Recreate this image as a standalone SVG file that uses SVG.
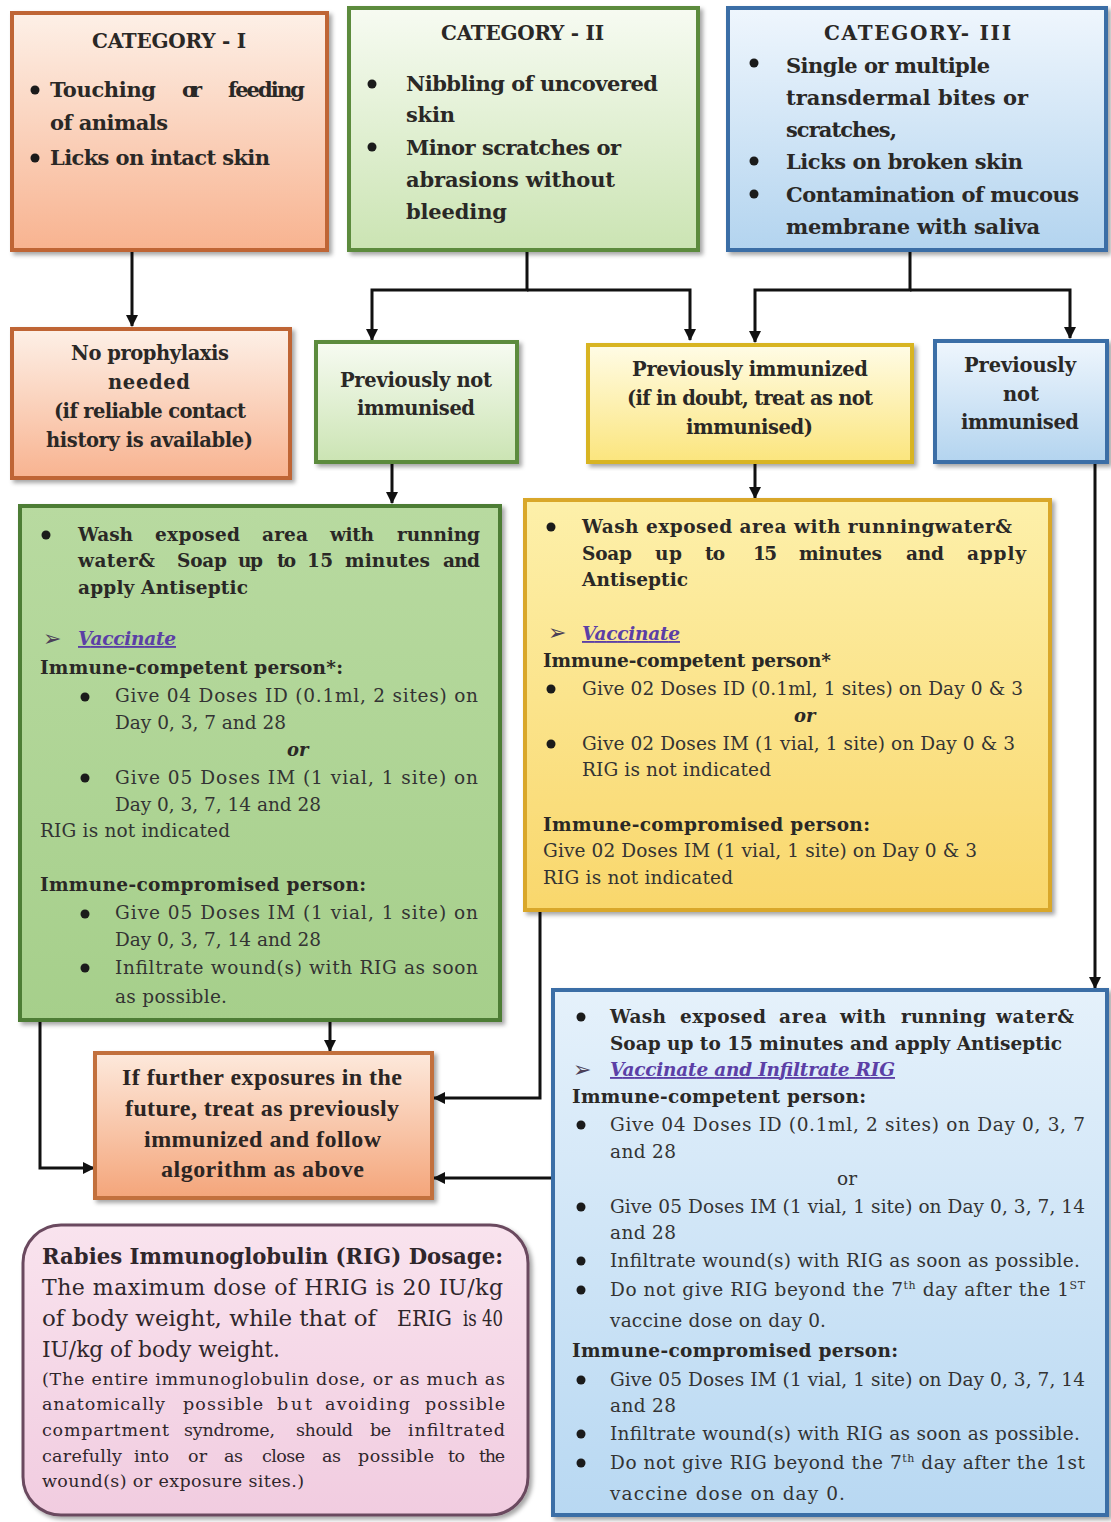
<svg xmlns="http://www.w3.org/2000/svg" width="1111" height="1522" viewBox="0 0 1111 1522">
<style>
.s{font-family:"DejaVu Serif","Liberation Serif",serif;fill:#2a2826}
.hd{font-size:20px;font-weight:bold}
.cb{font-size:21px;font-weight:bold}
.mb{font-size:19.5px;font-weight:bold}
.bb{font-size:18.5px;font-weight:bold}
.rr{font-size:18.5px;fill:#333}
.orr{font-size:18px;font-weight:bold;font-style:italic}
.vc{font-size:18.5px;font-weight:bold;font-style:italic;fill:#5b3fa6;text-decoration:underline}
.ar{font-family:"DejaVu Sans",sans-serif;font-size:22px;fill:#4b4058}
.t{font-family:"Liberation Serif",serif;fill:#2b2523}
.fo{font-size:24px;font-weight:bold}
.ph{font-size:22px;font-weight:bold;fill:#2f262b}
.pr{font-size:22px;fill:#2f262b}
.ps{font-size:17.5px;fill:#2f262b}
.dot{fill:#1b1b1b}
.c{fill:none;stroke:#111;stroke-width:3}
.ca{marker-end:url(#ah)}
.nb{stroke-width:4}
</style>
<defs>
<marker id="ah" markerUnits="userSpaceOnUse" markerWidth="12" markerHeight="12" refX="11" refY="6" orient="auto"><path d="M0,0 L12,6 L0,12 z" fill="#111"/></marker>
<filter id="sh" x="-5%" y="-5%" width="112%" height="112%"><feDropShadow dx="3" dy="3" stdDeviation="2" flood-color="#000" flood-opacity="0.35"/></filter>
<linearGradient id="g1" x1="0" y1="0" x2="0" y2="1"><stop offset="0" stop-color="#fdf0e7"/><stop offset="1" stop-color="#f8b390"/></linearGradient>
<linearGradient id="g2" x1="0" y1="0" x2="0" y2="1"><stop offset="0" stop-color="#f7fbf2"/><stop offset="1" stop-color="#cbe4b3"/></linearGradient>
<linearGradient id="g3" x1="0" y1="0" x2="0" y2="1"><stop offset="0" stop-color="#eff6fd"/><stop offset="1" stop-color="#b3d4ef"/></linearGradient>
<linearGradient id="gy" x1="0" y1="0" x2="0" y2="1"><stop offset="0" stop-color="#fffce6"/><stop offset="1" stop-color="#fbe57d"/></linearGradient>
<linearGradient id="ggb" x1="0" y1="0" x2="0" y2="1"><stop offset="0" stop-color="#b8daa0"/><stop offset="1" stop-color="#a6cf8b"/></linearGradient>
<linearGradient id="gyb" x1="0" y1="0" x2="0" y2="1"><stop offset="0" stop-color="#fdf0aa"/><stop offset="1" stop-color="#f9d76c"/></linearGradient>
<linearGradient id="gbb" x1="0" y1="0" x2="0" y2="1"><stop offset="0" stop-color="#e5f1fb"/><stop offset="1" stop-color="#b8d8f2"/></linearGradient>
<linearGradient id="go" x1="0" y1="0" x2="0" y2="1"><stop offset="0" stop-color="#fde9dc"/><stop offset="1" stop-color="#f4a57a"/></linearGradient>
<linearGradient id="gp" x1="0" y1="0" x2="0" y2="1"><stop offset="0" stop-color="#f9e3ee"/><stop offset="1" stop-color="#f1cce0"/></linearGradient>
</defs>
<rect width="1111" height="1522" fill="#ffffff"/>

<g id="connectors">
<path class="c ca" d="M132,250 V326"/>
<path class="c ca" d="M527,250 V290 H372 V340"/>
<path class="c ca" d="M527,290 H690 V340"/>
<path class="c ca" d="M910,250 V290 H755 V342"/>
<path class="c ca" d="M910,290 H1070 V338"/>
<path class="c ca" d="M392,462 V503"/>
<path class="c ca" d="M755,462 V498"/>
<path class="c ca" d="M1095,462 V988"/>
<path class="c ca" d="M330,1020 V1051"/>
<path class="c ca" d="M40,1020 V1168 H94"/>
<path class="c ca" d="M540,910 V1098 H434"/>
<path class="c ca" d="M553,1178 H434"/>
</g>

<g id="cat1">
<rect x="12" y="13" width="315" height="237" fill="url(#g1)" stroke="#bf6536" class="nb" filter="url(#sh)"/>
<text class="s hd" x="92" y="48" textLength="154" lengthAdjust="spacing">CATEGORY - I</text>
<circle class="dot" cx="35" cy="90" r="4.5"/>
<text class="s cb" x="50" y="97" textLength="106" lengthAdjust="spacing">Touching</text>
<text class="s cb" x="182" y="97" textLength="20" lengthAdjust="spacing">or</text>
<text class="s cb" x="228" y="97" textLength="77" lengthAdjust="spacing">feeding</text>
<text class="s cb" x="50" y="130" textLength="118" lengthAdjust="spacing">of animals</text>
<circle class="dot" cx="35" cy="158" r="4.5"/>
<text class="s cb" x="50" y="165" textLength="220" lengthAdjust="spacing">Licks on intact skin</text>
</g>

<g id="cat2">
<rect x="349" y="8" width="349" height="242" fill="url(#g2)" stroke="#5b8b3e" class="nb" filter="url(#sh)"/>
<text class="s hd" x="441" y="40" textLength="163" lengthAdjust="spacing">CATEGORY -  II</text>
<circle class="dot" cx="372" cy="84" r="4.5"/>
<text class="s cb" x="406" y="91" textLength="252" lengthAdjust="spacing">Nibbling of uncovered</text>
<text class="s cb" x="406" y="122" textLength="49" lengthAdjust="spacing">skin</text>
<circle class="dot" cx="372" cy="147" r="4.5"/>
<text class="s cb" x="406" y="155" textLength="215" lengthAdjust="spacing">Minor scratches or</text>
<text class="s cb" x="406" y="187" textLength="209" lengthAdjust="spacing">abrasions without</text>
<text class="s cb" x="406" y="219" textLength="101" lengthAdjust="spacing">bleeding</text>
</g>

<g id="cat3">
<rect x="728" y="8" width="378" height="242" fill="url(#g3)" stroke="#3b6ea6" class="nb" filter="url(#sh)"/>
<text class="s hd" x="824" y="40" textLength="187" lengthAdjust="spacing">CATEGORY- III</text>
<circle class="dot" cx="754" cy="63" r="4.5"/>
<text class="s cb" x="786" y="73" textLength="204" lengthAdjust="spacing">Single or multiple</text>
<text class="s cb" x="786" y="105" textLength="242" lengthAdjust="spacing">transdermal  bites or</text>
<text class="s cb" x="786" y="137" textLength="111" lengthAdjust="spacing">scratches,</text>
<circle class="dot" cx="754" cy="161" r="4.5"/>
<text class="s cb" x="786" y="169" textLength="237" lengthAdjust="spacing">Licks on broken skin</text>
<circle class="dot" cx="754" cy="194" r="4.5"/>
<text class="s cb" x="786" y="202" textLength="293" lengthAdjust="spacing">Contamination of mucous</text>
<text class="s cb" x="786" y="234" textLength="254" lengthAdjust="spacing">membrane with saliva</text>
</g>

<g id="no-prophylaxis">
<rect x="12" y="329" width="278" height="149" fill="url(#g1)" stroke="#bf6536" class="nb" filter="url(#sh)"/>
<text class="s mb" x="71" y="360" textLength="158" lengthAdjust="spacing">No prophylaxis</text>
<text class="s mb" x="108" y="389" textLength="82" lengthAdjust="spacing">needed</text>
<text class="s mb" x="54" y="418" textLength="192" lengthAdjust="spacing">(if reliable contact</text>
<text class="s mb" x="46" y="447" textLength="207" lengthAdjust="spacing">history is available)</text>
</g>

<g id="cat2-not-immunised">
<rect x="316" y="342" width="201" height="120" fill="url(#g2)" stroke="#5b8b3e" class="nb" filter="url(#sh)"/>
<text class="s mb" x="340" y="387" textLength="152" lengthAdjust="spacing">Previously not</text>
<text class="s mb" x="357" y="415" textLength="118" lengthAdjust="spacing">immunised</text>
</g>

<g id="previously-immunized">
<rect x="588" y="345" width="324" height="117" fill="url(#gy)" stroke="#d8b422" class="nb" filter="url(#sh)"/>
<text class="s mb" x="632" y="376" textLength="236" lengthAdjust="spacing">Previously immunized</text>
<text class="s mb" x="627" y="405" textLength="246" lengthAdjust="spacing">(if in doubt, treat as not</text>
<text class="s mb" x="686" y="434" textLength="127" lengthAdjust="spacing">immunised)</text>
</g>

<g id="cat3-not-immunised">
<rect x="935" y="341" width="172" height="121" fill="url(#g3)" stroke="#3b6ea6" class="nb" filter="url(#sh)"/>
<text class="s mb" x="964" y="372" textLength="112" lengthAdjust="spacing">Previously</text>
<text class="s mb" x="1003" y="401" textLength="36" lengthAdjust="spacing">not</text>
<text class="s mb" x="961" y="429" textLength="118" lengthAdjust="spacing">immunised</text>
</g>

<g id="cat2-treatment">
<rect x="20" y="506" width="480" height="514" fill="url(#ggb)" stroke="#4e7d35" class="nb" filter="url(#sh)"/>
<circle class="dot" cx="46" cy="535" r="4.5"/>
<text class="s bb" x="78" y="541" textLength="55" lengthAdjust="spacing">Wash</text>
<text class="s bb" x="155" y="541" textLength="85" lengthAdjust="spacing">exposed</text>
<text class="s bb" x="262" y="541" textLength="46" lengthAdjust="spacing">area</text>
<text class="s bb" x="330" y="541" textLength="44" lengthAdjust="spacing">with</text>
<text class="s bb" x="397" y="541" textLength="83" lengthAdjust="spacing">running</text>
<text class="s bb" x="78" y="567" textLength="77" lengthAdjust="spacing">water&amp;</text>
<text class="s bb" x="177" y="567" textLength="50" lengthAdjust="spacing">Soap</text>
<text class="s bb" x="238" y="567" textLength="25" lengthAdjust="spacing">up</text>
<text class="s bb" x="277" y="567" textLength="19" lengthAdjust="spacing">to</text>
<text class="s bb" x="307" y="567" textLength="26" lengthAdjust="spacing">15</text>
<text class="s bb" x="345" y="567" textLength="85" lengthAdjust="spacing">minutes</text>
<text class="s bb" x="443" y="567" textLength="37" lengthAdjust="spacing">and</text>
<text class="s bb" x="78" y="594" textLength="170" lengthAdjust="spacing">apply Antiseptic</text>
<text class="ar" x="43" y="646">➢</text>
<text class="s vc" x="78" y="645" textLength="98" lengthAdjust="spacing">Vaccinate</text>
<text class="s bb" x="40" y="674" textLength="303" lengthAdjust="spacing">Immune-competent person*:</text>
<circle class="dot" cx="85" cy="697" r="4.5"/>
<text class="s rr" x="115" y="702" textLength="363" lengthAdjust="spacing">Give 04 Doses ID (0.1ml, 2 sites) on</text>
<text class="s rr" x="115" y="729" textLength="171" lengthAdjust="spacing">Day 0, 3, 7 and 28</text>
<text class="s orr" x="287" y="756">or</text>
<circle class="dot" cx="85" cy="778" r="4.5"/>
<text class="s rr" x="115" y="784" textLength="363" lengthAdjust="spacing">Give 05 Doses IM (1 vial, 1 site) on</text>
<text class="s rr" x="115" y="811" textLength="206" lengthAdjust="spacing">Day 0, 3, 7, 14 and 28</text>
<text class="s rr" x="40" y="837" textLength="190" lengthAdjust="spacing">RIG is not indicated</text>
<text class="s bb" x="40" y="891" textLength="326" lengthAdjust="spacing">Immune-compromised person:</text>
<circle class="dot" cx="85" cy="914" r="4.5"/>
<text class="s rr" x="115" y="919" textLength="363" lengthAdjust="spacing">Give 05 Doses IM (1 vial, 1 site) on</text>
<text class="s rr" x="115" y="946" textLength="206" lengthAdjust="spacing">Day 0, 3, 7, 14 and 28</text>
<circle class="dot" cx="85" cy="968" r="4.5"/>
<text class="s rr" x="115" y="974" textLength="363" lengthAdjust="spacing">Infiltrate wound(s) with RIG as soon</text>
<text class="s rr" x="115" y="1003" textLength="112" lengthAdjust="spacing">as possible.</text>
</g>

<g id="previously-immunized-treatment">
<rect x="525" y="500" width="525" height="410" fill="url(#gyb)" stroke="#d9a72a" class="nb" filter="url(#sh)"/>
<circle class="dot" cx="551" cy="527" r="4.5"/>
<text class="s bb" x="582" y="533" textLength="430" lengthAdjust="spacing">Wash exposed area with runningwater&amp;</text>
<text class="s bb" x="582" y="560" textLength="50" lengthAdjust="spacing">Soap</text>
<text class="s bb" x="655" y="560" textLength="27" lengthAdjust="spacing">up</text>
<text class="s bb" x="705" y="560" textLength="20" lengthAdjust="spacing">to</text>
<text class="s bb" x="753" y="560" textLength="24" lengthAdjust="spacing">15</text>
<text class="s bb" x="799" y="560" textLength="83" lengthAdjust="spacing">minutes</text>
<text class="s bb" x="906" y="560" textLength="38" lengthAdjust="spacing">and</text>
<text class="s bb" x="967" y="560" textLength="59" lengthAdjust="spacing">apply</text>
<text class="s bb" x="582" y="586" textLength="106" lengthAdjust="spacing">Antiseptic</text>
<text class="ar" x="548" y="640">➢</text>
<text class="s vc" x="582" y="640" textLength="98" lengthAdjust="spacing">Vaccinate</text>
<text class="s bb" x="543" y="667" textLength="288" lengthAdjust="spacing">Immune-competent person*</text>
<circle class="dot" cx="551" cy="689" r="4.5"/>
<text class="s rr" x="582" y="695" textLength="441" lengthAdjust="spacing">Give 02 Doses ID (0.1ml, 1 sites) on Day 0 &amp; 3</text>
<text class="s orr" x="794" y="722">or</text>
<circle class="dot" cx="551" cy="744" r="4.5"/>
<text class="s rr" x="582" y="750" textLength="433" lengthAdjust="spacing">Give 02 Doses IM (1 vial, 1 site) on Day 0 &amp; 3</text>
<text class="s rr" x="582" y="776" textLength="189" lengthAdjust="spacing">RIG is not indicated</text>
<text class="s bb" x="543" y="831" textLength="327" lengthAdjust="spacing">Immune-compromised person:</text>
<text class="s rr" x="543" y="857" textLength="434" lengthAdjust="spacing">Give 02 Doses IM (1 vial, 1 site) on Day 0 &amp; 3</text>
<text class="s rr" x="543" y="884" textLength="190" lengthAdjust="spacing">RIG is not indicated</text>
</g>

<g id="cat3-treatment">
<rect x="553" y="990" width="554" height="525" fill="url(#gbb)" stroke="#3b6ea6" class="nb" filter="url(#sh)"/>
<circle class="dot" cx="581" cy="1017" r="4.5"/>
<text class="s bb" x="610" y="1023" textLength="56" lengthAdjust="spacing">Wash</text>
<text class="s bb" x="680" y="1023" textLength="86" lengthAdjust="spacing">exposed</text>
<text class="s bb" x="779" y="1023" textLength="48" lengthAdjust="spacing">area</text>
<text class="s bb" x="840" y="1023" textLength="46" lengthAdjust="spacing">with</text>
<text class="s bb" x="901" y="1023" textLength="85" lengthAdjust="spacing">running</text>
<text class="s bb" x="996" y="1023" textLength="78" lengthAdjust="spacing">water&amp;</text>
<text class="s bb" x="610" y="1050" textLength="452" lengthAdjust="spacing">Soap up to 15 minutes and apply Antiseptic</text>
<text class="ar" x="573" y="1077">➢</text>
<text class="s vc" x="610" y="1076" textLength="285" lengthAdjust="spacing">Vaccinate and Infiltrate RIG</text>
<text class="s bb" x="572" y="1103" textLength="294" lengthAdjust="spacing">Immune-competent person:</text>
<circle class="dot" cx="581" cy="1125" r="4.5"/>
<text class="s rr" x="610" y="1131" textLength="475" lengthAdjust="spacing">Give 04 Doses ID (0.1ml, 2 sites) on Day 0, 3, 7</text>
<text class="s rr" x="610" y="1158" textLength="66" lengthAdjust="spacing">and 28</text>
<text class="s rr" x="837" y="1185">or</text>
<circle class="dot" cx="581" cy="1207" r="4.5"/>
<text class="s rr" x="610" y="1213" textLength="475" lengthAdjust="spacing">Give 05 Doses IM (1 vial, 1 site) on Day 0, 3, 7, 14</text>
<text class="s rr" x="610" y="1239" textLength="66" lengthAdjust="spacing">and 28</text>
<circle class="dot" cx="581" cy="1261" r="4.5"/>
<text class="s rr" x="610" y="1267" textLength="470" lengthAdjust="spacing">Infiltrate wound(s) with RIG as soon as possible.</text>
<circle class="dot" cx="581" cy="1290" r="4.5"/>
<text class="s rr" x="610" y="1296" textLength="475" lengthAdjust="spacing">Do not give RIG beyond the 7<tspan dy="-7" font-size="11">th</tspan><tspan dy="7"> day after the 1</tspan><tspan dy="-7" font-size="11">ST</tspan></text>
<text class="s rr" x="610" y="1327" textLength="216" lengthAdjust="spacing">vaccine dose on day 0.</text>
<text class="s bb" x="572" y="1357" textLength="326" lengthAdjust="spacing">Immune-compromised person:</text>
<circle class="dot" cx="581" cy="1380" r="4.5"/>
<text class="s rr" x="610" y="1386" textLength="475" lengthAdjust="spacing">Give 05 Doses IM (1 vial, 1 site) on Day 0, 3, 7, 14</text>
<text class="s rr" x="610" y="1412" textLength="66" lengthAdjust="spacing">and 28</text>
<circle class="dot" cx="581" cy="1434" r="4.5"/>
<text class="s rr" x="610" y="1440" textLength="470" lengthAdjust="spacing">Infiltrate wound(s) with RIG as soon as possible.</text>
<circle class="dot" cx="581" cy="1463" r="4.5"/>
<text class="s rr" x="610" y="1469" textLength="475" lengthAdjust="spacing">Do not give RIG beyond the 7<tspan dy="-7" font-size="11">th</tspan><tspan dy="7"> day after the 1st</tspan></text>
<text class="s rr" x="610" y="1500" textLength="235" lengthAdjust="spacing">vaccine dose on day 0.</text>
</g>

<g id="future-exposures">
<rect x="95" y="1053" width="337" height="145" fill="url(#go)" stroke="#c2703e" class="nb" filter="url(#sh)"/>
<text class="t fo" x="122" y="1085" textLength="280" lengthAdjust="spacing">If further exposures in the</text>
<text class="t fo" x="125" y="1116" textLength="274" lengthAdjust="spacing">future, treat as previously</text>
<text class="t fo" x="144" y="1147" textLength="237" lengthAdjust="spacing">immunized and follow</text>
<text class="t fo" x="161" y="1177" textLength="203" lengthAdjust="spacing">algorithm as above</text>
</g>

<g id="rig-dosage">
<rect x="23" y="1225" width="505" height="290" rx="38" ry="38" fill="url(#gp)" stroke="#6b4a5f" stroke-width="3" filter="url(#sh)"/>
<text class="s ph" x="42" y="1264" textLength="461" lengthAdjust="spacingAndGlyphs">Rabies Immunoglobulin (RIG) Dosage:</text>
<text class="s pr" x="42" y="1295" textLength="461" lengthAdjust="spacing">The maximum dose of HRIG is 20 IU/kg</text>
<text class="s pr" x="42" y="1326" textLength="334" lengthAdjust="spacingAndGlyphs">of body weight, while that of</text>
<text class="s pr" x="397" y="1326" textLength="55" lengthAdjust="spacingAndGlyphs">ERIG</text>
<text class="s pr" x="463" y="1326" textLength="40" lengthAdjust="spacingAndGlyphs">is 40</text>
<text class="s pr" x="42" y="1357" textLength="238" lengthAdjust="spacingAndGlyphs">IU/kg of body weight.</text>
<text class="s ps" x="42" y="1385" textLength="463" lengthAdjust="spacing">(The entire immunoglobulin dose, or as much as</text>
<text class="s ps" x="42" y="1410" textLength="123" lengthAdjust="spacing">anatomically</text>
<text class="s ps" x="183" y="1410" textLength="80" lengthAdjust="spacing">possible</text>
<text class="s ps" x="277" y="1410" textLength="35" lengthAdjust="spacing">but</text>
<text class="s ps" x="325" y="1410" textLength="85" lengthAdjust="spacing">avoiding</text>
<text class="s ps" x="425" y="1410" textLength="80" lengthAdjust="spacing">possible</text>
<text class="s ps" x="42" y="1436" textLength="127" lengthAdjust="spacing">compartment</text>
<text class="s ps" x="184" y="1436" textLength="91" lengthAdjust="spacing">syndrome,</text>
<text class="s ps" x="296" y="1436" textLength="57" lengthAdjust="spacing">should</text>
<text class="s ps" x="370" y="1436" textLength="21" lengthAdjust="spacing">be</text>
<text class="s ps" x="408" y="1436" textLength="97" lengthAdjust="spacing">infiltrated</text>
<text class="s ps" x="42" y="1462" textLength="80" lengthAdjust="spacing">carefully</text>
<text class="s ps" x="134" y="1462" textLength="35" lengthAdjust="spacing">into</text>
<text class="s ps" x="188" y="1462" textLength="19" lengthAdjust="spacing">or</text>
<text class="s ps" x="224" y="1462" textLength="19" lengthAdjust="spacing">as</text>
<text class="s ps" x="262" y="1462" textLength="43" lengthAdjust="spacing">close</text>
<text class="s ps" x="322" y="1462" textLength="19" lengthAdjust="spacing">as</text>
<text class="s ps" x="358" y="1462" textLength="76" lengthAdjust="spacing">possible</text>
<text class="s ps" x="448" y="1462" textLength="17" lengthAdjust="spacing">to</text>
<text class="s ps" x="479" y="1462" textLength="26" lengthAdjust="spacing">the</text>
<text class="s ps" x="42" y="1487" textLength="262" lengthAdjust="spacing">wound(s) or exposure sites.)</text>
</g>
</svg>
